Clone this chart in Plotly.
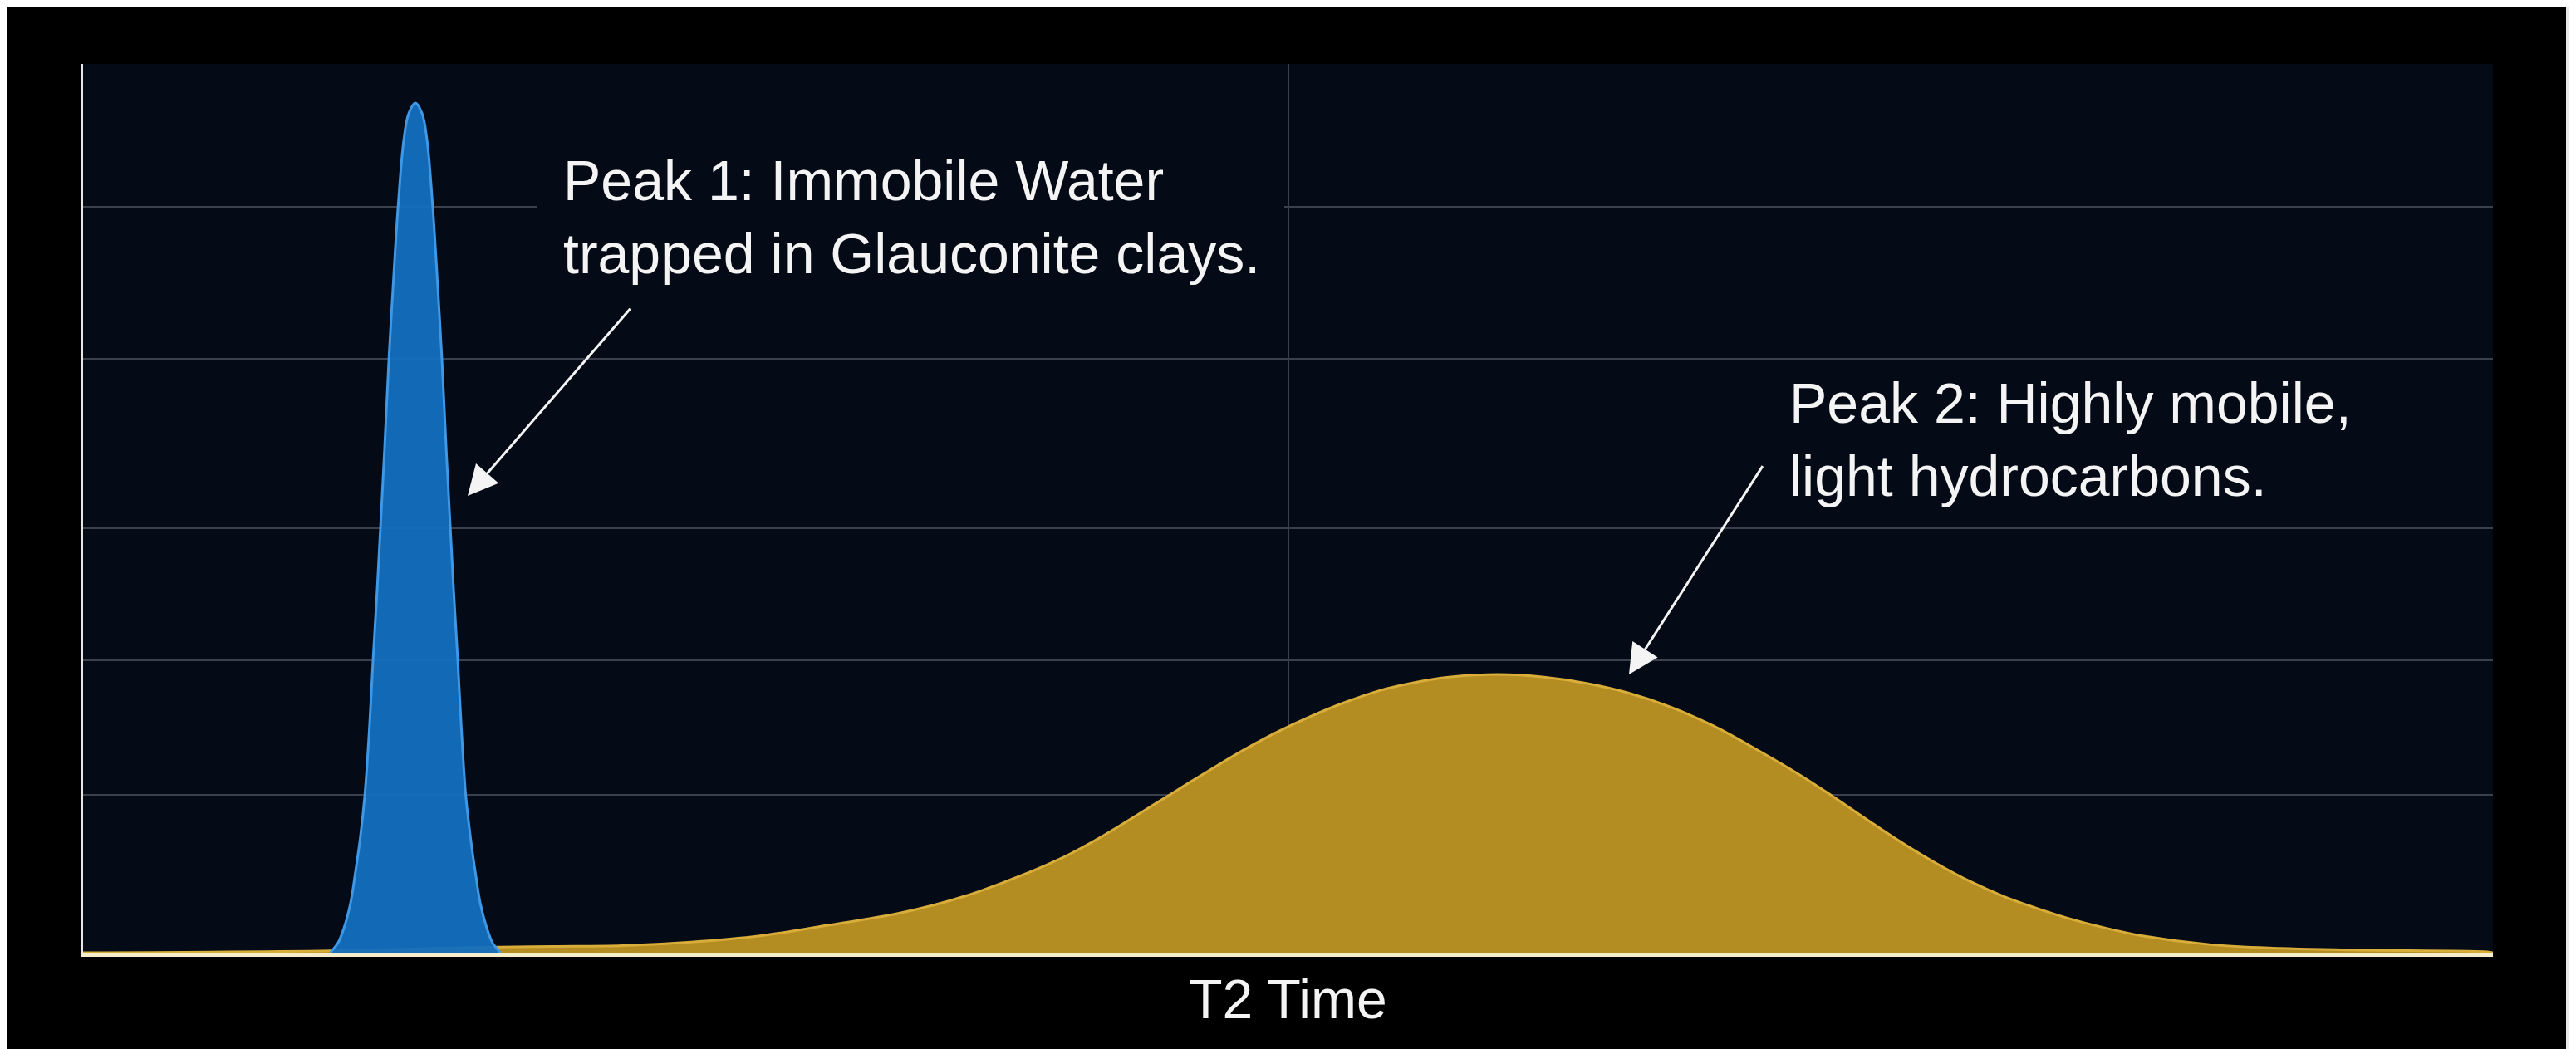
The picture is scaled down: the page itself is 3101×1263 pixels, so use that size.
import plotly.graph_objects as go

# ---- data (arbitrary units) ----
# x: position along the T2 time axis (0..100 across the plot), y: amplitude (0..1)
water_x = [10.27, 10.44, 10.58, 10.83, 11.10, 11.31, 11.51, 11.69, 11.88, 12.03,
           12.19, 12.34, 12.50, 12.69, 12.86, 13.07, 13.31, 13.51, 13.79,
           14.07, 14.27, 14.51, 14.72, 14.89, 15.08, 15.24, 15.39, 15.55, 15.70,
           15.88, 16.07, 16.27, 16.48, 16.75, 16.99, 17.13, 17.31]
water_y = [0.000, 0.006, 0.011, 0.028, 0.056, 0.092, 0.131, 0.177, 0.252, 0.328,
           0.402, 0.478, 0.561, 0.668, 0.748, 0.839, 0.915, 0.944, 0.956,
           0.944, 0.915, 0.839, 0.748, 0.668, 0.561, 0.478, 0.402, 0.328, 0.252,
           0.177, 0.131, 0.092, 0.056, 0.028, 0.011, 0.006, 0.000]

hc_x = [0.00, 10.34, 16.65, 19.51, 22.37, 25.23, 28.09, 30.95, 33.78, 35.23,
        36.64, 38.09, 39.50, 40.95, 42.36, 43.81, 45.23, 46.67, 48.09, 49.53,
        50.95, 52.40, 53.81, 55.26, 56.67, 58.70, 60.63, 62.39, 64.15, 65.91,
        67.67, 69.42, 71.18, 72.60, 74.01, 75.46, 76.87, 78.32, 79.73, 81.18,
        82.59, 84.04, 85.45, 88.31, 91.18, 94.04, 99.76, 100.00]
hc_y = [0.000, 0.002, 0.006, 0.007, 0.008, 0.012, 0.019, 0.031, 0.044, 0.053,
        0.064, 0.078, 0.093, 0.111, 0.132, 0.156, 0.180, 0.204, 0.227, 0.248,
        0.266, 0.282, 0.295, 0.304, 0.310, 0.313, 0.310, 0.303, 0.292, 0.276,
        0.255, 0.229, 0.201, 0.176, 0.150, 0.124, 0.101, 0.080, 0.063, 0.049,
        0.037, 0.027, 0.019, 0.009, 0.005, 0.003, 0.001, 0.000]

grid_y = [0.178, 0.329, 0.478, 0.668, 0.839, 1.0]
grid_x = [50, 100]

label_1 = "Peak 1: Immobile Water<br>trapped in Glauconite clays."
label_2 = "Peak 2: Highly mobile,<br>light hydrocarbons."
axis_title = "T2 Time"

# ---- style ----
PAPER = "#000000"
PLOT = "#050b16"
GRID = "#3a404d"
TEXT = "#f4f4f4"
FONT = "Liberation Sans, Arial, Helvetica, sans-serif"

OFF = 8                      # page body margin of the html page
W, H = 3101 - OFF, 1263 - OFF
ML, MT = 100 - OFF, 77 - OFF
MR = W - (3001 - OFF)
MB = H - (1147 - OFF)
PW, PH = W - ML - MR, H - MT - MB


def px_x(p):
    """page pixel -> paper x"""
    return (p - OFF - ML) / PW


def px_y(p):
    """page pixel -> paper y"""
    return (H - MB - (p - OFF)) / PH


fig = go.Figure()

fig.add_trace(go.Scatter(
    x=hc_x, y=hc_y, mode="lines", fill="tozeroy",
    fillcolor="#b48d22",
    line=dict(color="#d9ad3a", width=3, shape="spline", smoothing=1.0),
    hoverinfo="skip", showlegend=False, name="Light hydrocarbons",
))
fig.add_trace(go.Scatter(
    x=water_x, y=water_y, mode="lines", fill="tozeroy",
    fillcolor="rgba(19,111,190,0.95)",
    line=dict(color="#3f98e6", width=3, shape="spline", smoothing=1.0),
    hoverinfo="skip", showlegend=False, name="Immobile water",
))

shapes = [
    # mask behind the first label (hides the grid line there)
    dict(type="rect", xref="paper", yref="paper",
         x0=px_x(646), x1=px_x(1546), y0=px_y(350), y1=px_y(185),
         fillcolor=PLOT, line=dict(width=0), layer="above"),
    # light frame strip at the right edge of the screenshot
    dict(type="rect", xref="paper", yref="paper",
         x0=px_x(3089), x1=px_x(3101), y0=px_y(1263), y1=px_y(OFF),
         fillcolor="#e9e9e9", line=dict(width=0), layer="above"),
]

annotations = [
    dict(x=19.85, y=0.828, xref="x", yref="y", text=label_1, showarrow=False,
         xanchor="left", yanchor="middle", align="left",
         font=dict(family=FONT, size=68, color=TEXT)),
    dict(x=70.72, y=0.578, xref="x", yref="y", text=label_2, showarrow=False,
         xanchor="left", yanchor="middle", align="left",
         font=dict(family=FONT, size=68, color=TEXT)),
    dict(x=15.96, y=0.514, ax=22.75, ay=0.726, xref="x", yref="y",
         axref="x", ayref="y", text="", showarrow=True,
         arrowhead=2, arrowsize=2.4, arrowwidth=3, arrowcolor=TEXT),
    dict(x=64.15, y=0.313, ax=69.73, ay=0.549, xref="x", yref="y",
         axref="x", ayref="y", text="", showarrow=True,
         arrowhead=2, arrowsize=2.4, arrowwidth=3, arrowcolor=TEXT),
]

fig.update_layout(
    width=W, height=H,
    paper_bgcolor=PAPER, plot_bgcolor=PLOT,
    margin=dict(l=ML, r=MR, t=MT, b=MB),
    font=dict(family=FONT, color=TEXT),
    shapes=shapes, annotations=annotations,
    showlegend=False,
)
fig.update_xaxes(
    range=[0, 100], tickvals=grid_x, showticklabels=False, ticks="",
    showgrid=True, gridcolor=GRID, gridwidth=2, zeroline=False,
    showline=True, linecolor="#f4eecd", linewidth=5,
    title=dict(text=axis_title, font=dict(family=FONT, size=66, color=TEXT),
               standoff=30),
    fixedrange=True,
)
fig.update_yaxes(
    range=[0, 1], tickvals=grid_y, showticklabels=False, ticks="",
    showgrid=True, gridcolor=GRID, gridwidth=2, zeroline=False,
    showline=True, linecolor="#e6e6e6", linewidth=3,
    fixedrange=True,
)

fig.write_html("out.html")
